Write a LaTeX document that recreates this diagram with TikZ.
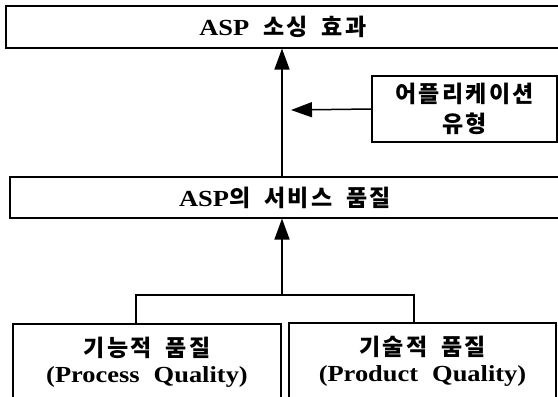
\documentclass[tikz,border=0pt]{standalone}
\usepackage{fontspec}
\usetikzlibrary{arrows.meta}
\setmainfont{Liberation Serif}[FakeStretch=1.15]
\newfontfamily\krfont{Noto Sans CJK KR}[Scale=1.0,LetterSpace=10]
\newcommand\K[1]{{\krfont\bfseries #1}}
\newcommand\gap{\hspace{14pt}}
\tikzset{
  boxn/.style={draw, line width=1.1pt, inner sep=0pt, align=center, font=\fontsize{23}{26}\selectfont\bfseries},
  appn/.style={boxn, line width=1.6pt, font=\fontsize{23}{30}\selectfont\bfseries},
  arr/.style={line width=1.5pt, -{Triangle[length=21pt,width=15pt]}},
  link/.style={line width=1.2pt},
}
\begin{document}
\begin{tikzpicture}[x=1pt,y=-1pt]
\useasboundingbox (0,0) rectangle (558,397);
\clip (0,0) rectangle (558,397);
\fill[white] (0,0) rectangle (558,397);
\node[boxn, minimum width=554pt, minimum height=42pt] (top) at (283,27) {ASP\gap\K{소싱}\gap\K{효과}};
\node[boxn, minimum width=550pt, minimum height=41pt] (mid) at (285,197.5) {ASP\K{의}\gap\K{서비스}\gap\K{품질}};
\node[appn, minimum width=185pt, minimum height=66pt] (app) at (464.5,109) {\K{어플리케이션}\\\K{유형}};
\node[boxn, minimum width=268pt, minimum height=76pt] (left) at (147,362) {\K{기능적}\gap\K{품질}\\(Process\gap Quality)};
\node[boxn, minimum width=267pt, minimum height=77pt] (right) at (422.5,361.5) {\K{기술적}\gap\K{품질}\\(Product\gap Quality)};
\coordinate (ax) at (282,0);
\coordinate (bl) at (136,295);
\coordinate (br) at (414,295);
\coordinate (ht) at (291,110);
\draw[arr] (ax |- mid.north) -- (ax |- top.south);
\draw[arr] (app.west) -- (ht);
\draw[arr] (ax |- bl) -- (ax |- mid.south);
\draw[link] (bl |- left.north) -- (bl) -- (br) -- (br |- right.north);
\end{tikzpicture}
\end{document}
